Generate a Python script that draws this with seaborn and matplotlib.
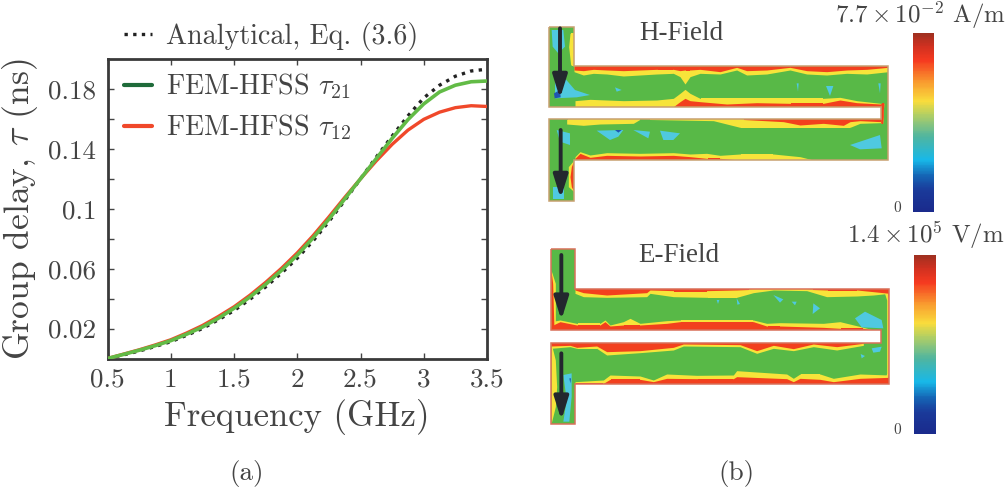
import numpy as np
import pandas as pd
import matplotlib
matplotlib.use("Agg")
import matplotlib.pyplot as plt
import seaborn as sns
from matplotlib.colors import LinearSegmentedColormap
from matplotlib.lines import Line2D
from matplotlib.patches import PathPatch, Polygon
from matplotlib.path import Path

# Group delay curves (GHz, ns)
freq = [0.5, 0.625, 0.75, 0.875, 1.0, 1.125, 1.25, 1.375, 1.5, 1.625, 1.75, 1.875, 2.0,
        2.125, 2.25, 2.375, 2.5, 2.625, 2.75, 2.875, 3.0, 3.125, 3.25, 3.375, 3.5]
tau_analytical = [0.0, 0.0024, 0.0050, 0.0080, 0.0112, 0.0155, 0.0200, 0.0258, 0.0320, 0.0395, 0.0478, 0.0570, 0.0670,
                  0.0785, 0.0915, 0.1055, 0.1200, 0.1345, 0.1485, 0.1620, 0.1740, 0.1825, 0.1885, 0.1920, 0.1932]
tau_21 = [0.0, 0.0027, 0.0055, 0.0085, 0.0119, 0.0162, 0.0210, 0.0268, 0.0335, 0.0410, 0.0495, 0.0588, 0.0690,
          0.0805, 0.0930, 0.1065, 0.1200, 0.1335, 0.1470, 0.1595, 0.1700, 0.1780, 0.1825, 0.1848, 0.1853]
tau_12 = [0.0, 0.0029, 0.0058, 0.0090, 0.0125, 0.0170, 0.0220, 0.0280, 0.0345, 0.0422, 0.0508, 0.0602, 0.0705,
          0.0820, 0.0945, 0.1075, 0.1200, 0.1320, 0.1430, 0.1525, 0.1597, 0.1645, 0.1675, 0.1688, 0.1683]

x_ticks = [0.5, 1, 1.5, 2, 2.5, 3, 3.5]
x_tick_labels = ["0.5", "1", "1.5", "2", "2.5", "3", "3.5"]
y_ticks = [0.02, 0.04, 0.06, 0.08, 0.10, 0.12, 0.14, 0.16, 0.18]
y_tick_labels = ["0.02", "", "0.06", "", "0.1", "", "0.14", "", "0.18"]

# Colour scale shared by both field maps
scale_positions = [0.0, 0.12, 0.2, 0.29, 0.42, 0.55, 0.62, 0.72, 0.85, 0.93, 1.0]
scale_colors = ["#1a2a8c", "#1a3a9a", "#1565b5", "#18b8e8", "#4fb5a0", "#b8d060",
                "#f9dc3c", "#f9a030", "#f53a20", "#d03020", "#a03020"]

# H-field map: outline and band boundaries on the panel grid
h_outline = [(27, 50), (102, 50), (102, 168), (1045, 168), (1045, 450), (102, 450), (102, 572),
             (27, 572), (27, 328), (1022, 328), (1022, 290), (27, 290)]
h_top_x = [102, 130, 160, 200, 250, 300, 350, 400, 420, 435, 450, 480, 540, 590, 620, 680, 750, 800, 860, 920, 980, 1045]
h_top_yellow = [185, 195, 190, 192, 198, 195, 192, 190, 200, 222, 200, 190, 192, 180, 195, 192, 180, 192, 195, 190, 192, 185]
h_top_red = [180, 182, 178, 180, 182, 180, 178, 178, 182, 180, 180, 178, 185, 172, 182, 180, 172, 182, 185, 180, 178, 172]
h_mid_up_x = [105, 150, 250, 350, 400, 420, 435, 450, 480, 560, 650, 750, 850, 900, 950, 1022]
h_mid_up_yellow = [272, 268, 272, 270, 265, 250, 238, 250, 265, 265, 265, 265, 265, 262, 272, 280]
h_mid_up_red = [290, 290, 290, 290, 290, 275, 265, 272, 275, 282, 278, 280, 280, 270, 278, 282]
h_mid_low_x = [80, 130, 180, 280, 300, 520, 600, 730, 780, 850, 910, 930, 960, 1022]
h_mid_low_yellow = [342, 346, 342, 340, 328, 332, 352, 352, 352, 352, 352, 352, 340, 338]
h_mid_low_red = [328, 328, 328, 328, 328, 328, 328, 335, 345, 340, 346, 335, 332, 335]
h_bot_x = [105, 120, 150, 200, 300, 400, 450, 500, 540, 600, 700, 780, 820]
h_bot_yellow = [440, 425, 435, 428, 430, 428, 432, 430, 436, 432, 432, 440, 450]
h_bot_red = [445, 430, 442, 436, 438, 436, 440, 445, 445, 450, 450, 450, 450]
h_stub_up_y = [70, 110, 165]
h_stub_up_yellow = [90, 86, 92]
h_stub_up_red = [102, 102, 102]
h_stub_low_y = [450, 470, 500, 530, 545]
h_stub_low_yellow = [102, 85, 85, 85, 102]
h_stub_low_red = [102, 94, 90, 94, 102]
h_cyan = [
    [(35, 60), (70, 60), (75, 110), (55, 130), (38, 110)],
    [(45, 210), (75, 205), (105, 240), (150, 255), (110, 262), (45, 265)],
    [(225, 232), (245, 240), (230, 245)], [(858, 228), (880, 228), (870, 258)],
    [(770, 220), (776, 220), (774, 245)], [(1015, 220), (1022, 220), (1020, 250)],
    [(170, 362), (250, 360), (235, 380), (210, 390)], [(280, 360), (330, 365), (325, 385)],
    [(360, 362), (420, 370), (400, 390), (370, 390)], [(50, 360), (90, 370), (90, 405), (60, 395)],
    [(40, 530), (72, 530), (72, 568), (40, 568)], [(930, 405), (1020, 375), (1025, 415), (960, 418)],
]
h_blue = [[(42, 250), (60, 240), (62, 262), (44, 265)], [(225, 360), (245, 360), (235, 368)]]
h_end_cap_y = [280, 300, 320, 340]
h_end_cap_x = [1032, 1030, 1030, 1028]
h_arrows = [(60, 55, 265), (62, 360, 565)]

# E-field map
e_outline = [(33, 27), (105, 27), (105, 148), (1048, 148), (1048, 432), (105, 432), (105, 552),
             (33, 552), (33, 308), (1022, 308), (1022, 270), (33, 270)]
e_top_x = [105, 130, 200, 320, 330, 400, 500, 590, 640, 700, 800, 860, 950, 1000, 1048]
e_top_yellow = [160, 170, 172, 170, 160, 170, 172, 172, 158, 150, 152, 170, 168, 165, 160]
e_top_red = [150, 158, 165, 158, 150, 152, 152, 150, 148, 148, 148, 150, 150, 155, 160]
e_mid_up_x = [33, 60, 110, 180, 195, 210, 250, 270, 300, 380, 420, 500, 640, 680, 720, 850, 900, 970, 1000]
e_mid_up_yellow = [245, 240, 250, 250, 240, 255, 245, 235, 250, 242, 240, 240, 240, 250, 248, 250, 245, 262, 270]
e_mid_up_red = [258, 245, 255, 255, 245, 258, 255, 255, 255, 250, 245, 245, 245, 258, 258, 262, 265, 265, 270]
e_mid_low_x = [33, 90, 110, 170, 200, 300, 400, 430, 600, 650, 700, 760, 820, 890, 970]
e_mid_low_yellow = [325, 320, 325, 325, 345, 338, 330, 318, 320, 340, 325, 332, 320, 330, 316]
e_mid_low_red = [318, 316, 322, 318, 335, 332, 322, 312, 314, 332, 316, 326, 312, 320, 310]
e_bot_x = [105, 190, 210, 300, 340, 380, 470, 580, 590, 740, 760, 780, 840, 880, 960, 1048]
e_bot_yellow = [425, 420, 405, 408, 420, 402, 406, 405, 392, 402, 415, 402, 402, 415, 402, 405]
e_bot_red = [430, 430, 418, 418, 425, 415, 416, 416, 410, 416, 425, 415, 418, 425, 415, 412]
e_left_y = [90, 130, 200, 270, 308, 360, 440, 500, 552]
e_left_yellow = [33, 46, 46, 46, 33, 46, 50, 46, 33]
e_left_red = [33, 38, 40, 42, 33, 33, 33, 33, 33]
e_right_y = [148, 180, 250, 330, 400, 432]
e_right_yellow = [1030, 1040, 1040, 1040, 1040, 1030]
e_right_red = [1042, 1045, 1045, 1045, 1045, 1042]
e_cyan = [
    [(945, 235), (975, 215), (1025, 240), (1030, 265), (965, 262)],
    [(700, 165), (730, 178), (720, 188)], [(820, 190), (840, 205), (818, 222)],
    [(530, 180), (538, 180), (534, 192)], [(590, 175), (600, 192), (592, 194)],
    [(755, 185), (770, 185), (765, 196)], [(995, 325), (1025, 320), (1020, 335), (1000, 338)],
    [(962, 342), (975, 348), (965, 355)],
    [(70, 405), (95, 400), (95, 470), (88, 545), (70, 545), (80, 480)],
]
e_blue = [[(88, 415), (93, 415), (91, 430)]]
e_arrows = [(64, 45, 240), (64, 340, 540)]

FIELD_GREEN = "#58b947"
FIELD_YELLOW = "#f7e43a"
FIELD_RED = "#f2401e"
FIELD_CYAN = "#4fc9e0"
FIELD_BLUE = "#1f55b0"
TEXT = "#444444"
W, H = 1006, 498

sns.set_theme(style="ticks")
plt.rcParams.update({
    "font.family": ["cmr10", "DejaVu Serif"],
    "mathtext.fontset": "cm",
    "axes.unicode_minus": False,
    "axes.formatter.use_mathtext": True,
    "text.color": TEXT,
    "axes.labelcolor": TEXT,
    "xtick.labelcolor": TEXT,
    "ytick.labelcolor": TEXT,
})

fig = plt.figure(figsize=(W / 100, H / 100), dpi=100)


def axes_at(x0, y0, x1, y1):
    """Axes placed by its pixel box, measured from the top-left of the figure."""
    return fig.add_axes([x0 / W, 1 - y1 / H, (x1 - x0) / W, (y1 - y0) / H])


# Panel (a): group delay
ax = axes_at(107.5, 59, 487, 358.5)
curves = pd.DataFrame({"f": freq, "analytical": tau_analytical, "t21": tau_21, "t12": tau_12})
sns.lineplot(data=curves, x="f", y="analytical", ax=ax, color="#222222", lw=2.4,
             linestyle=(0, (1, 1.6)), zorder=2)
sns.lineplot(data=curves, x="f", y="t12", ax=ax, color="#f0482a", lw=2.4, zorder=3)
sns.lineplot(data=curves, x="f", y="t21", ax=ax, color="#62bb46", lw=2.6, zorder=4)
ax.set_xlim(0.5, 3.5)
ax.set_ylim(0, 0.2)
ax.set_xticks(x_ticks, x_tick_labels)
ax.set_yticks(y_ticks, y_tick_labels)
ax.tick_params(axis="both", which="major", direction="in", top=True, right=True,
               length=4, width=1, color="#444444", labelsize=19.5, pad=8)
ax.tick_params(axis="x", pad=7)
ax.set_xlabel("Frequency (GHz)", fontsize=25, labelpad=5)
ax.set_ylabel(r"Group delay, $\tau$ (ns)", fontsize=25.6, labelpad=6)
for spine in ax.spines.values():
    spine.set_linewidth(2)
    spine.set_color("#3a3a3a")

top_legend = ax.legend(
    handles=[Line2D([], [], color="#222222", lw=2.4, linestyle=(0, (1, 1.6)), label="Analytical, Eq. (3.6)")],
    loc="center left", bbox_to_anchor=(0.0, 1.076), frameon=False, fontsize=20.2,
    handlelength=0.97, handletextpad=0.52, borderpad=0, borderaxespad=0.6)
ax.add_artist(top_legend)
ax.legend(
    handles=[Line2D([], [], color="#1f6b3a", lw=3, label=r"FEM-HFSS $\tau_{21}$"),
             Line2D([], [], color="#f0482a", lw=3, label=r"FEM-HFSS $\tau_{12}$")],
    loc="upper left", bbox_to_anchor=(0.0, 1.015), frameon=False, fontsize=20.2,
    handlelength=0.97, handletextpad=0.52, borderpad=0, borderaxespad=0.6, labelspacing=0.41)


def draw_field(box, outline, hbands, vbands, cyan, blue, arrows, edge):
    """Field magnitude map: green body with yellow/red bands clipped to the conductor."""
    m = axes_at(*box)
    m.set_xlim(0, 1080)
    m.set_ylim(600, 0)
    m.axis("off")
    body = PathPatch(Path(list(outline) + [outline[0]], closed=False), facecolor=FIELD_GREEN,
                     edgecolor="none", zorder=1)
    m.add_patch(body)
    artists = []
    for xs, base, yellow, red in hbands:
        artists.append(m.fill_between(xs, base, yellow, color=FIELD_YELLOW, lw=0, zorder=2))
        artists.append(m.fill_between(xs, base, red, color=FIELD_RED, lw=0, zorder=3))
    for ys, base, yellow, red in vbands:
        artists.append(m.fill_betweenx(ys, base, yellow, color=FIELD_YELLOW, lw=0, zorder=2))
        artists.append(m.fill_betweenx(ys, base, red, color=FIELD_RED, lw=0, zorder=3))
    for pts in cyan:
        artists.append(m.add_patch(Polygon(pts, facecolor=FIELD_CYAN, edgecolor="none", zorder=4)))
    for pts in blue:
        artists.append(m.add_patch(Polygon(pts, facecolor=FIELD_BLUE, edgecolor="none", zorder=5)))
    for a in artists:
        a.set_clip_path(body)
    m.add_patch(PathPatch(Path(list(outline) + [outline[0]]), facecolor="none",
                          edgecolor=edge, lw=1.1, zorder=6))
    for x, y0, y1 in arrows:
        m.annotate("", xy=(x, y1), xytext=(x, y0), zorder=7,
                   arrowprops=dict(arrowstyle="-|>,head_length=1.15,head_width=0.36",
                                   color="#23272e", lw=2.8, shrinkA=0, shrinkB=0))
    return m


draw_field(
    (540, 10, 900, 210), h_outline,
    [(h_top_x, 168, h_top_yellow, h_top_red),
     (h_mid_up_x, 290, h_mid_up_yellow, h_mid_up_red),
     (h_mid_low_x, 328, h_mid_low_yellow, h_mid_low_red),
     (h_bot_x, 450, h_bot_yellow, h_bot_red)],
    [(h_stub_up_y, 102, h_stub_up_yellow, h_stub_up_red),
     (h_stub_low_y, 102, h_stub_low_yellow, h_stub_low_red),
     (h_end_cap_y, 1022, h_end_cap_x, h_end_cap_x)],
    h_cyan, h_blue, h_arrows, "#c8a070")
draw_field(
    (540, 240, 900, 440), e_outline,
    [(e_top_x, 148, e_top_yellow, e_top_red),
     (e_mid_up_x, 270, e_mid_up_yellow, e_mid_up_red),
     (e_mid_low_x, 308, e_mid_low_yellow, e_mid_low_red),
     (e_bot_x, 432, e_bot_yellow, e_bot_red)],
    [(e_left_y, 33, e_left_yellow, e_left_red),
     (e_right_y, 1048, e_right_yellow, e_right_red)],
    e_cyan, e_blue, e_arrows, "#d9705a")

# Colour bars drawn as one-column heatmaps
field_cmap = LinearSegmentedColormap.from_list("field", list(zip(scale_positions, scale_colors)))
levels = np.linspace(1, 0, 200).reshape(-1, 1)
for box in [(913, 33, 934, 212), (914, 255, 935.5, 434)]:
    cb = axes_at(*box)
    sns.heatmap(levels, ax=cb, cmap=field_cmap, vmin=0, vmax=1, cbar=False,
                xticklabels=False, yticklabels=False)


def page_text(x, y, s, **kw):
    kw.setdefault("ha", "center")
    kw.setdefault("va", "center")
    fig.text(x / W, 1 - y / H, s, **kw)


serif = ["Liberation Serif", "DejaVu Serif"]
page_text(681, 34, "H-Field", family=serif, fontsize=19.5)
page_text(679, 256, "E-Field", family=serif, fontsize=19.5)
page_text(835, 15, r"$7.7\times10^{-2}$ A/m", ha="left", fontsize=17.9)
page_text(847, 235, r"$1.4\times10^{5}$ V/m", ha="left", fontsize=17.9)
page_text(897, 208, "0", fontsize=11)
page_text(897, 430, "0", fontsize=11)
page_text(247, 473, "(a)", fontsize=19.5)
page_text(736, 473, "(b)", fontsize=19.5)

fig.savefig("out.png", dpi=100, facecolor="white")
